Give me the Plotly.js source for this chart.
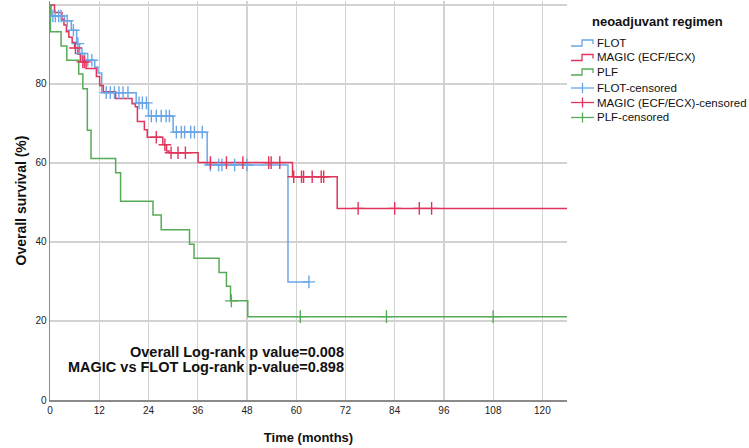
<!DOCTYPE html>
<html>
<head>
<meta charset="utf-8">
<script src="https://cdn.plot.ly/plotly-3.0.1.min.js"></script>
<style>html,body{margin:0;padding:0;background:#fff;}#chart{width:749px;height:448px;}</style>
</head>
<body>
<div id="chart"></div>
<script>
// ---- Data ----
const xTicks = [0, 12, 24, 36, 48, 60, 72, 84, 96, 108, 120];
const yTicks = [0, 20, 40, 60, 80, 100];

const groupNames = ["FLOT", "MAGIC (ECF/ECX)", "PLF"];

// FLOT step curve
const flotTime = [0, 0.3, 3.5, 5.2, 6.5, 7.2, 8.4, 10.9, 11.7, 12.6, 21.0, 24.0, 30.0, 38.3, 58.0, 63.1];
const flotSurv = [100, 97.2, 96.0, 93.6, 90.2, 87.7, 86.0, 84.3, 82.8, 77.8, 75.2, 71.9, 67.8, 59.5, 29.9, 29.9];
const flotCens = [0.7, 1.3, 2.1, 2.7, 4.2, 5.7, 6.8, 7.8, 9.2, 10.2, 13.7, 14.7, 15.7, 16.8, 17.8, 19.0,
                  21.7, 22.5, 23.5, 24.7, 25.9, 27.1, 28.3, 29.1, 30.8, 32.0, 32.8, 34.3, 35.2, 37.1,
                  39.1, 41.1, 41.9, 45.0, 48.0, 63.1];

// MAGIC step curve
const magicTime = [0, 1.1, 2.9, 3.4, 4.0, 4.6, 5.4, 6.0, 6.8, 7.4, 8.8, 11.3, 12.1, 13.0, 16.0, 20.0, 20.8, 21.3, 23.0, 23.7, 27.5, 28.4, 29.0, 36.1, 59.1, 70.0, 126];
const magicSurv = [100, 98.1, 96.3, 94.9, 93.2, 91.8, 90.5, 89.1, 87.5, 85.6, 83.9, 81.9, 79.6, 78.0, 76.3, 75.0, 74.2, 70.5, 68.4, 66.5, 64.6, 63.0, 62.6, 60.1, 56.5, 48.5, 48.5];
const magicCens = [6.2, 8.0, 8.4, 25.9, 28.0, 29.5, 31.2, 33.0, 39.1, 43.0, 47.0, 53.3, 53.9, 56.0,
                   59.4, 61.3, 61.8, 63.9, 66.1, 66.7, 75.1, 84.0, 90.0, 93.0];

// PLF step curve
const plfTime = [0, 0.1, 2.7, 4.1, 7.0, 8.0, 9.1, 10.0, 16.0, 17.2, 25.1, 27.1, 34.0, 35.1, 41.2, 43.0, 44.0, 48.2, 126];
const plfSurv = [100, 93.2, 89.6, 86.0, 82.5, 78.8, 68.3, 61.1, 57.5, 50.3, 46.8, 43.1, 39.4, 35.9, 32.3, 28.8, 25.1, 21.1, 21.1];
const plfCens = [44.2, 61.0, 82.0, 108.0];

// ---- Styling ----
const colors = ["#6aa6e6", "#e0345c", "#57ab57"];

// survival at a censor time = value of the step curve at that time
function survAt(times, surv, t) {
  let v = surv[0];
  for (let i = 0; i < times.length; i++) { if (times[i] <= t) v = surv[i]; }
  return v;
}

const curves = [
  [flotTime, flotSurv, flotCens],
  [magicTime, magicSurv, magicCens],
  [plfTime, plfSurv, plfCens]
];

const traces = [];
curves.forEach((c, i) => {
  traces.push({
    x: c[0], y: c[1], type: "scatter", mode: "lines",
    line: {shape: "hv", color: colors[i], width: 1.5},
    name: groupNames[i], showlegend: false, hoverinfo: "skip"
  });
});
curves.forEach((c, i) => {
  traces.push({
    x: c[2], y: c[2].map(t => survAt(c[0], c[1], t)), type: "scatter", mode: "markers",
    marker: {symbol: "cross-thin", size: 9, line: {color: colors[i], width: 1.4}, color: colors[i]},
    name: groupNames[i] + "-censored", showlegend: false, hoverinfo: "skip"
  });
});

// ---- Layout ----
const W = 749, H = 448, ML = 50, MR = 182, MT = 1, MB = 48;
const PW = W - ML - MR, PH = H - MT - MB;
const fx = p => (p - ML) / PW;
const fy = p => 1 - (p - MT) / PH;

const font = "Liberation Sans, Arial, sans-serif";
const shapes = [];
const annotations = [];

// legend (drawn manually to match the compact SPSS legend)
annotations.push({xref: "paper", yref: "paper", x: fx(590), y: fy(21), xanchor: "left", yanchor: "middle",
  text: "<b>neoadjuvant regimen</b>", showarrow: false, font: {family: font, size: 13, color: "#111"}});
const legY = [43, 57.5, 72, 88, 102.5, 117.5];
const legNames = groupNames.concat(groupNames.map(n => n + "-censored"));
legNames.forEach((n, k) => {
  const col = colors[k % 3];
  const yc = legY[k];
  if (k < 3) {
    shapes.push({type: "path", xref: "paper", yref: "paper",
      path: `M ${fx(571)} ${fy(yc + 3)} L ${fx(582)} ${fy(yc + 3)} L ${fx(582)} ${fy(yc - 3)} L ${fx(593)} ${fy(yc - 3)} L ${fx(593)} ${fy(yc + 1)}`,
      line: {color: col, width: 1.3}});
  } else {
    shapes.push({type: "line", xref: "paper", yref: "paper", x0: fx(571), x1: fx(594), y0: fy(yc), y1: fy(yc),
      line: {color: col, width: 1.3}});
    shapes.push({type: "line", xref: "paper", yref: "paper", x0: fx(582.5), x1: fx(582.5), y0: fy(yc - 5), y1: fy(yc + 5),
      line: {color: col, width: 1.3}});
  }
  annotations.push({xref: "paper", yref: "paper", x: fx(595), y: fy(yc), xanchor: "left", yanchor: "middle",
    text: n, showarrow: false, font: {family: font, size: 11.5, color: "#111"}});
});

// statistics text
annotations.push({xref: "paper", yref: "paper", x: fx(346), y: fy(352), xanchor: "right", yanchor: "middle",
  text: "<b>Overall Log-rank p value=0.008</b>", showarrow: false, font: {family: font, size: 14.5, color: "#111"}});
annotations.push({xref: "paper", yref: "paper", x: fx(346), y: fy(367), xanchor: "right", yanchor: "middle",
  text: "<b>MAGIC vs FLOT Log-rank p-value=0.898</b>", showarrow: false, font: {family: font, size: 14.5, color: "#111"}});

const layout = {
  width: W, height: H,
  margin: {l: ML, r: MR, t: MT, b: MB, pad: 0},
  paper_bgcolor: "#fff", plot_bgcolor: "#fff",
  showlegend: false,
  font: {family: font, size: 10, color: "#222"},
  xaxis: {
    range: [0, 126], tickvals: xTicks, ticktext: xTicks.map(String),
    showgrid: true, gridcolor: "#d2d2d2", gridwidth: 1.2,
    showline: true, linecolor: "#8a8a8a", linewidth: 1.5,
    zeroline: false, ticks: "", tickfont: {size: 10, color: "#222"},
    title: {text: "<b>Time (months)</b>", font: {family: font, size: 13, color: "#111"}, standoff: 18}
  },
  yaxis: {
    range: [0, 101], tickvals: yTicks, ticktext: yTicks.map(String),
    showgrid: true, gridcolor: "#d2d2d2", gridwidth: 1.2,
    showline: true, linecolor: "#8a8a8a", linewidth: 1.5,
    zeroline: false, ticks: "", tickfont: {size: 10, color: "#222"},
    title: {text: "<b>Overall survival (%)</b>", font: {family: font, size: 14, color: "#111"}, standoff: 5}
  },
  shapes: shapes,
  annotations: annotations
};

Plotly.newPlot("chart", traces, layout, {displayModeBar: false, staticPlot: true});
</script>
</body>
</html>
